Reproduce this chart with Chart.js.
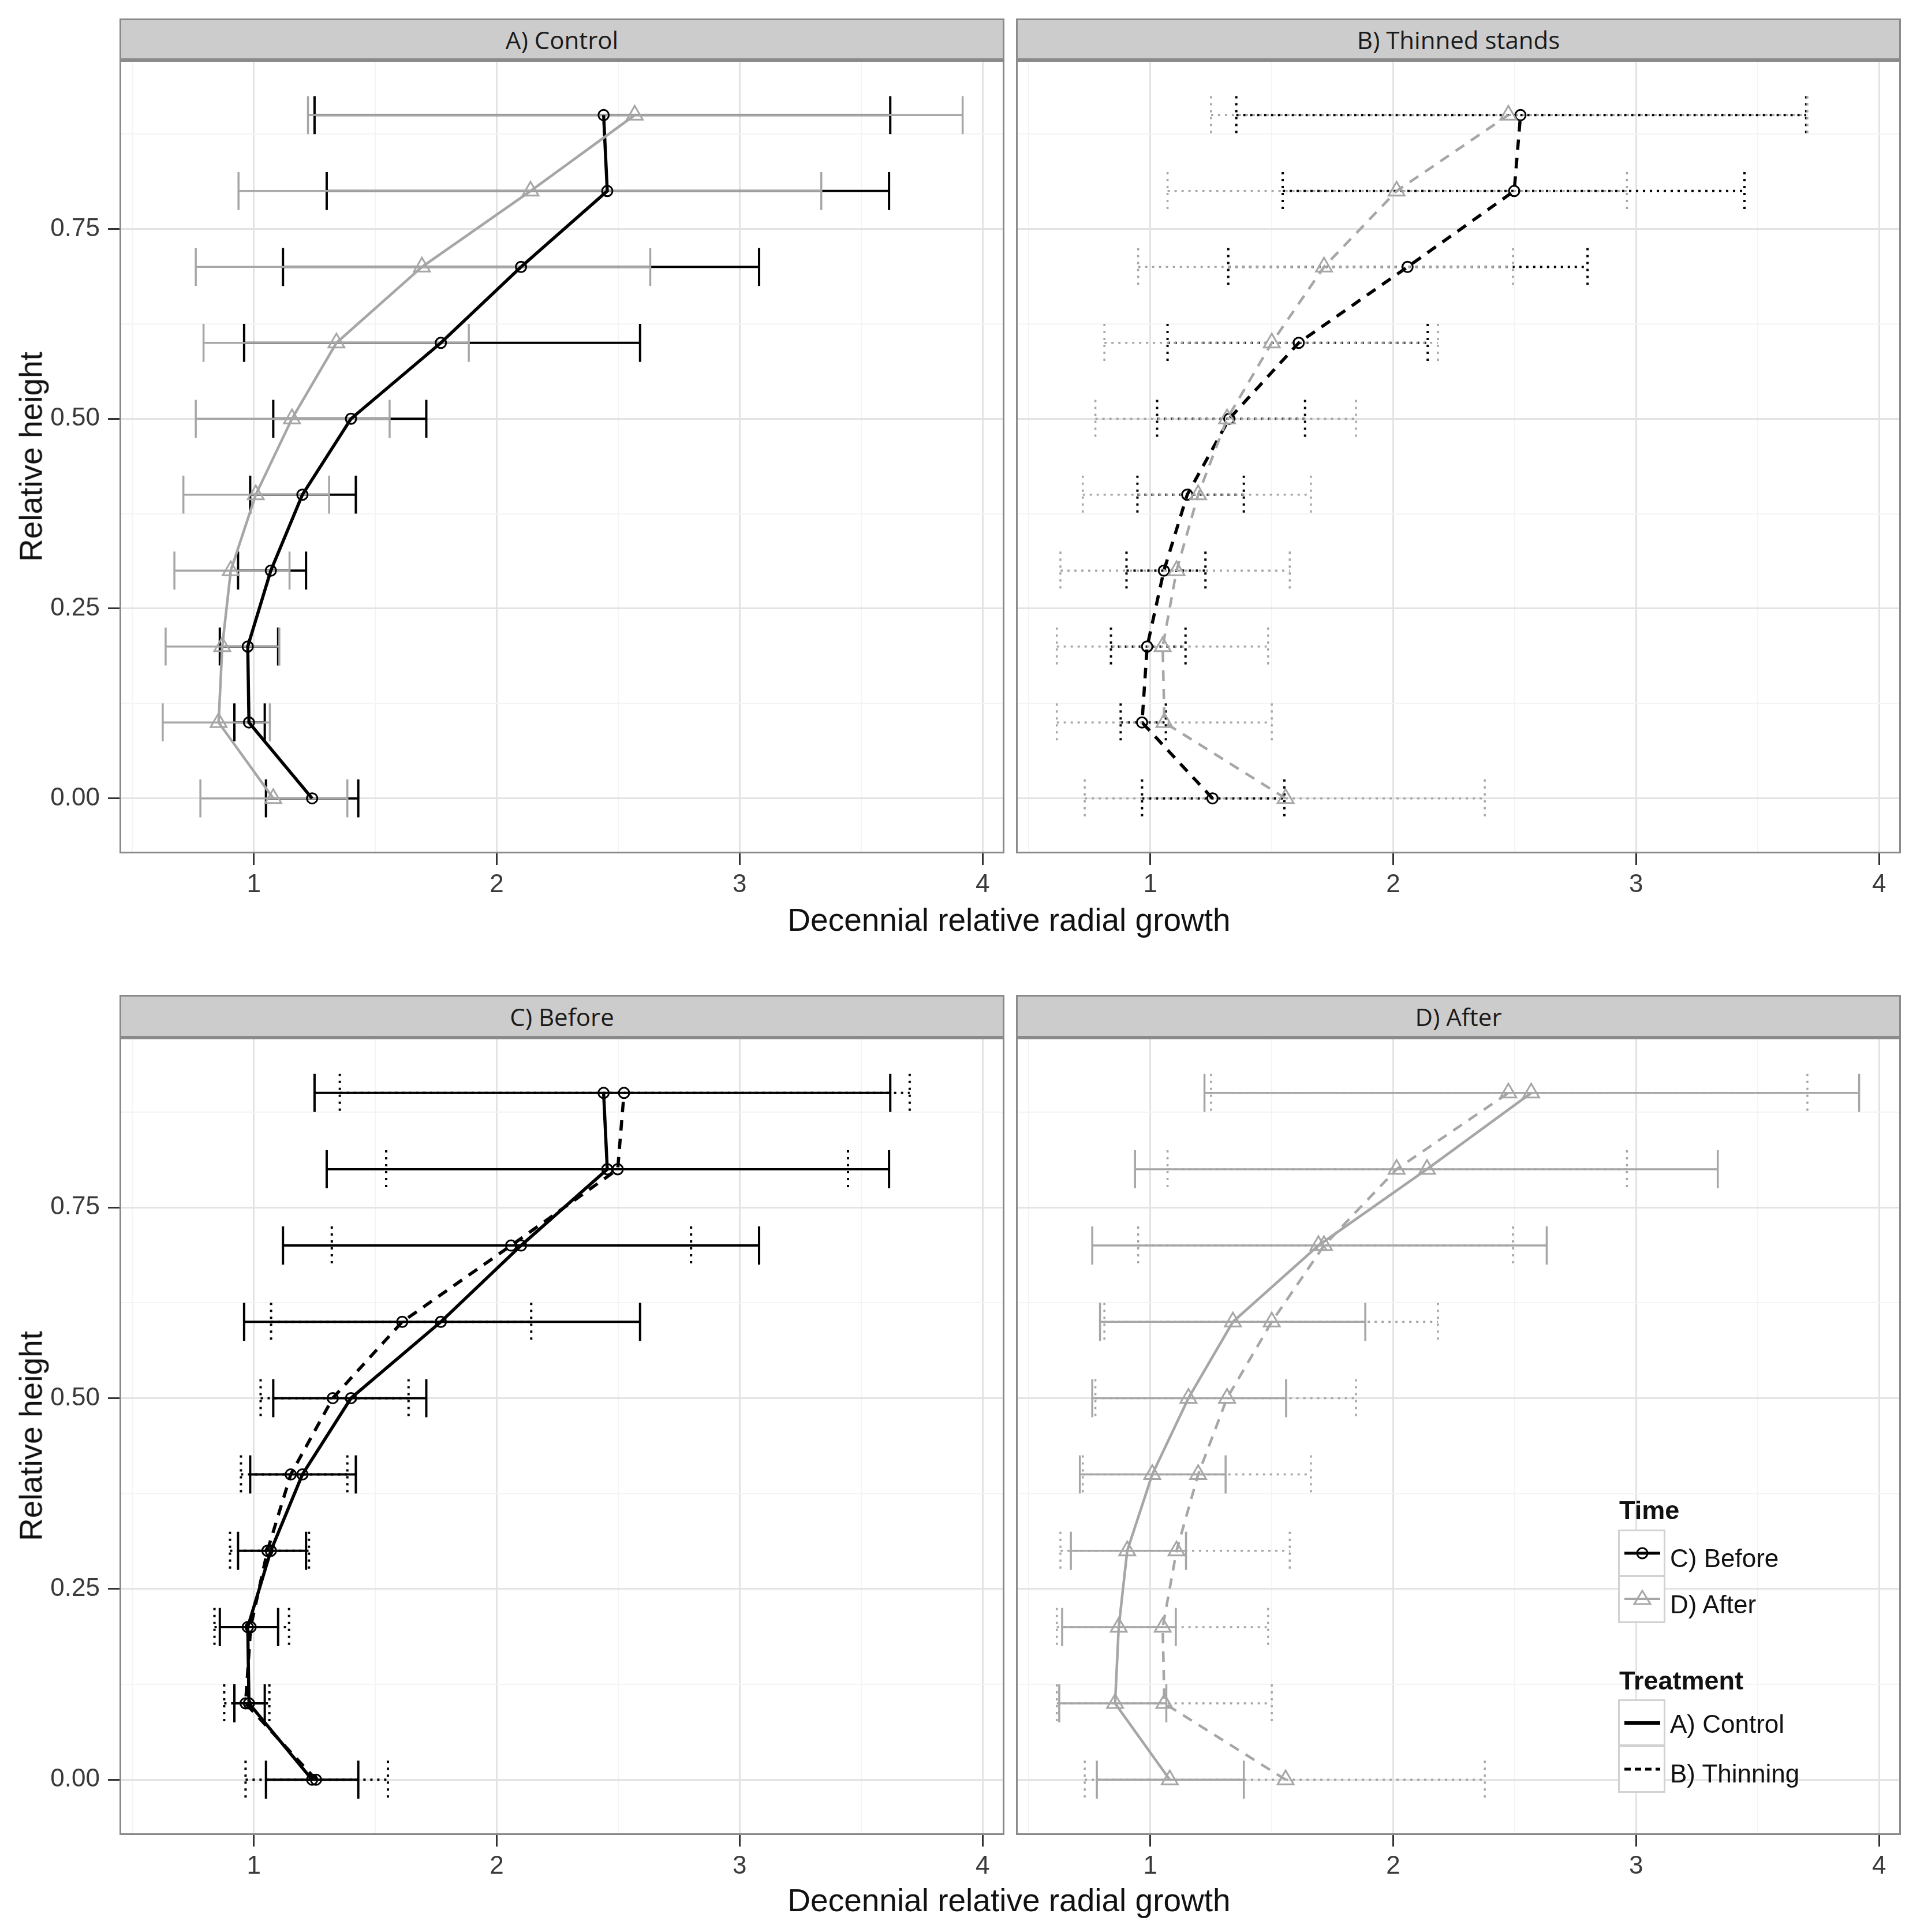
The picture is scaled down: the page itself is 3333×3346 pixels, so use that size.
<!DOCTYPE html>
<html>
<head>
<meta charset="utf-8">
<script src="https://cdn.jsdelivr.net/npm/chart.js@4.4.1/dist/chart.umd.min.js"></script>
<style>
html,body{margin:0;padding:0;background:#fff;}
#root{position:relative;width:3333px;height:3346px;overflow:hidden;font-family:"Liberation Sans",Arial,sans-serif;background:#fff;}
canvas{position:absolute;}
.strip{position:absolute;box-sizing:border-box;background:#cccccc;border:3px solid #8a8a8a;font-family:"Open Sans",sans-serif;font-size:42px;color:#1a1a1a;display:flex;align-items:center;justify-content:center;z-index:2;}
.xtitle{position:absolute;font-size:55px;line-height:1;color:#111;transform:translate(-50%,-50%);white-space:nowrap;}
.ytitle{position:absolute;font-size:55px;line-height:1;color:#111;transform:translate(-50%,-50%) rotate(-90deg);white-space:nowrap;}
.lgtitle{position:absolute;font-size:45px;font-weight:bold;line-height:1;color:#111;transform:translateY(-50%);white-space:nowrap;z-index:3;}
.lglab{position:absolute;font-size:44px;line-height:1;color:#111;transform:translateY(-50%);white-space:nowrap;z-index:3;}
.lgkey{position:absolute;box-sizing:border-box;width:82px;height:81px;background:#fff;border:3px solid #d2d2d2;z-index:3;}
.lgkey svg{position:absolute;left:0;top:0;}
</style>
</head>
<body>
<div id="root">
  <div class="strip" style="left:207px;top:32px;width:1533px;height:72px;">A) Control</div>
  <div class="strip" style="left:1760px;top:32px;width:1533px;height:72px;">B) Thinned stands</div>
  <div class="strip" style="left:207px;top:1723px;width:1533px;height:74px;">C) Before</div>
  <div class="strip" style="left:1760px;top:1723px;width:1533px;height:74px;">D) After</div>

  <canvas id="cA" width="1750" height="1456" style="left:0px;top:104px;"></canvas>
  <canvas id="cB" width="1583" height="1456" style="left:1750px;top:104px;"></canvas>
  <canvas id="cC" width="1750" height="1463" style="left:0px;top:1797px;"></canvas>
  <canvas id="cD" width="1583" height="1463" style="left:1750px;top:1797px;"></canvas>

  <div class="ytitle" style="left:54px;top:791px;">Relative height</div>
  <div class="ytitle" style="left:54px;top:2487px;">Relative height</div>
  <div class="xtitle" style="left:1748px;top:1593px;">Decennial relative radial growth</div>
  <div class="xtitle" style="left:1748px;top:3291px;">Decennial relative radial growth</div>

  <div class="lgtitle" style="left:2805px;top:2615px;">Time</div>
  <div class="lgkey" style="left:2803px;top:2649px;height:82px;">
    <svg width="82" height="82"><line x1="8" y1="38" x2="70" y2="38" stroke="#000" stroke-width="5"/><circle cx="39" cy="38" r="9" fill="none" stroke="#000" stroke-width="3"/></svg>
  </div>
  <div class="lglab" style="left:2893px;top:2699px;">C) Before</div>
  <div class="lgkey" style="left:2803px;top:2728px;height:83px;">
    <svg width="82" height="83"><line x1="8" y1="38" x2="70" y2="38" stroke="#a6a6a6" stroke-width="4"/><polygon points="39,24 53,47 25,47" fill="none" stroke="#a6a6a6" stroke-width="3"/></svg>
  </div>
  <div class="lglab" style="left:2893px;top:2779px;">D) After</div>

  <div class="lgtitle" style="left:2805px;top:2910px;">Treatment</div>
  <div class="lgkey" style="left:2803px;top:2943px;">
    <svg width="82" height="81"><line x1="8" y1="38" x2="70" y2="38" stroke="#000" stroke-width="6"/></svg>
  </div>
  <div class="lglab" style="left:2893px;top:2986px;">A) Control</div>
  <div class="lgkey" style="left:2803px;top:3023px;height:82px;">
    <svg width="82" height="82"><line x1="8" y1="38" x2="70" y2="38" stroke="#000" stroke-width="5" stroke-dasharray="11,7"/></svg>
  </div>
  <div class="lglab" style="left:2893px;top:3072px;">B) Thinning</div>
</div>

<script>
// ---------------- DATA ----------------
const heights = [0, 0.1, 0.2, 0.3, 0.4, 0.5, 0.6, 0.7, 0.8, 0.9];

// Control, before thinning (mean, lower, upper)
const controlBeforeMean = [1.24, 0.98, 0.975, 1.07, 1.20, 1.40, 1.77, 2.10, 2.455, 2.44];
const controlBeforeLo   = [1.05, 0.92, 0.86, 0.935, 0.985, 1.08, 0.96, 1.12, 1.30, 1.25];
const controlBeforeHi   = [1.43, 1.045, 1.10, 1.215, 1.42, 1.71, 2.59, 3.08, 3.615, 3.62];

// Control, after thinning
const controlAfterMean = [1.08, 0.855, 0.87, 0.905, 1.008, 1.157, 1.34, 1.692, 2.139, 2.568];
const controlAfterLo   = [0.78, 0.625, 0.637, 0.673, 0.71, 0.761, 0.793, 0.761, 0.937, 1.223];
const controlAfterHi   = [1.385, 1.066, 1.105, 1.147, 1.31, 1.559, 1.885, 2.632, 3.336, 3.918];

// Thinned stands, before thinning
const thinBeforeMean = [1.256, 0.966, 0.987, 1.056, 1.152, 1.325, 1.611, 2.059, 2.498, 2.524];
const thinBeforeLo   = [0.966, 0.878, 0.838, 0.902, 0.947, 1.028, 1.071, 1.321, 1.545, 1.354];
const thinBeforeHi   = [1.552, 1.064, 1.145, 1.227, 1.385, 1.637, 2.142, 2.800, 3.446, 3.70];

// Thinned stands, after thinning
const thinAfterMean = [1.557, 1.058, 1.051, 1.108, 1.197, 1.316, 1.50, 1.715, 2.014, 2.474];
const thinAfterLo   = [0.73, 0.615, 0.615, 0.63, 0.722, 0.774, 0.811, 0.950, 1.071, 1.250];
const thinAfterHi   = [2.377, 1.50, 1.485, 1.574, 1.661, 1.847, 2.184, 2.493, 2.962, 3.705];

// Axis ticks
const xTickValues = [1, 2, 3, 4];
const xTickLabels = ['1', '2', '3', '4'];
const xMinorValues = [0.5, 1.5, 2.5, 3.5];
const yTickValues = [0, 0.25, 0.5, 0.75];
const yTickLabels = ['0.00', '0.25', '0.50', '0.75'];
const yMinorValues = [0.125, 0.375, 0.625, 0.875];

// ---------------- STYLE ----------------
const X_MIN = 0.447, X_MAX = 4.09;
const Y_MIN = -0.0725, Y_MAX = 0.9725;
const CAP = 0.025;
const BLACK = '#000000', GRAY = '#a6a6a6';
const MAJOR_GRID = '#e3e3e3', MINOR_GRID = '#f4f4f4';
const TICK_FONT = {family: 'Liberation Sans', size: 44};

function makeSeries(mean, lo, hi, color, dashed, marker) {
  const isBlack = color === BLACK;
  return {
    data: heights.map((h, i) => ({x: mean[i], y: h})),
    errLo: lo, errHi: hi,
    showLine: true,
    borderColor: color,
    borderWidth: isBlack ? 5.5 : 4.5,
    borderDash: dashed ? [18, 14] : [],
    errDash: dashed ? [4, 8] : [],
    errWidth: isBlack ? 4 : 3.5,
    pointStyle: marker,
    pointRadius: marker === 'triangle' ? 16 : 9,
    pointBorderWidth: 3,
    pointBorderColor: color,
    pointBackgroundColor: 'rgba(0,0,0,0)',
    tension: 0
  };
}

const S = {
  CB: () => makeSeries(controlBeforeMean, controlBeforeLo, controlBeforeHi, BLACK, false, 'circle'),
  CA: () => makeSeries(controlAfterMean, controlAfterLo, controlAfterHi, GRAY, false, 'triangle'),
  TB: () => makeSeries(thinBeforeMean, thinBeforeLo, thinBeforeHi, BLACK, true, 'circle'),
  TA: () => makeSeries(thinAfterMean, thinAfterLo, thinAfterHi, GRAY, true, 'triangle')
};

const errorBarPlugin = {
  id: 'errbars',
  beforeDatasetsDraw(chart) {
    const ctx = chart.ctx, xs = chart.scales.x, ys = chart.scales.y;
    const metas = chart.getSortedVisibleDatasetMetas();
    for (let m = metas.length - 1; m >= 0; m--) {
      const ds = chart.data.datasets[metas[m].index];
      ctx.save();
      ctx.strokeStyle = ds.borderColor;
      ctx.lineWidth = ds.errWidth;
      ctx.lineCap = 'butt';
      ctx.setLineDash(ds.errDash);
      ds.data.forEach((p, j) => {
        const y = ys.getPixelForValue(p.y);
        const yt = ys.getPixelForValue(p.y + CAP), yb = ys.getPixelForValue(p.y - CAP);
        const xl = xs.getPixelForValue(ds.errLo[j]), xh = xs.getPixelForValue(ds.errHi[j]);
        ctx.beginPath();
        ctx.moveTo(xl, y); ctx.lineTo(xh, y);
        ctx.moveTo(xl, yt); ctx.lineTo(xl, yb);
        ctx.moveTo(xh, yt); ctx.lineTo(xh, yb);
        ctx.stroke();
      });
      ctx.restore();
    }
  },
  afterDraw(chart) {
    const a = chart.chartArea, ctx = chart.ctx;
    ctx.save();
    ctx.strokeStyle = '#8a8a8a';
    ctx.lineWidth = 3;
    ctx.strokeRect(a.left + 1.5, a.top + 1.5, a.right - a.left - 3, a.bottom - a.top - 3);
    ctx.restore();
  }
};

function makeChart(id, datasets, leftCol, xAxisH, padRight) {
  const allX = xTickValues.concat(xMinorValues).sort((a, b) => a - b);
  const allY = yTickValues.concat(yMinorValues).sort((a, b) => a - b);
  return new Chart(document.getElementById(id), {
    type: 'scatter',
    data: {datasets: datasets},
    plugins: [errorBarPlugin],
    options: {
      responsive: false,
      animation: false,
      devicePixelRatio: 1,
      layout: {padding: {left: 0, right: padRight, top: 0, bottom: 0}, autoPadding: false},
      plugins: {legend: {display: false}, tooltip: {enabled: false}},
      scales: {
        x: {
          type: 'linear', position: 'bottom', min: X_MIN, max: X_MAX,
          afterBuildTicks: s => { s.ticks = allX.map(v => ({value: v})); },
          afterFit: s => { s.height = xAxisH; s.paddingLeft = 0; s.paddingRight = 0; },
          ticks: {
            autoSkip: false, maxRotation: 0, padding: 8, font: TICK_FONT, color: '#3a3a3a',
            callback: v => { const k = xTickValues.indexOf(v); return k >= 0 ? xTickLabels[k] : ''; }
          },
          grid: {
            color: c => (c.tick && xTickValues.includes(c.tick.value)) ? MAJOR_GRID : MINOR_GRID,
            lineWidth: c => (c.tick && xTickValues.includes(c.tick.value)) ? 3 : 2,
            tickColor: c => (c.tick && xTickValues.includes(c.tick.value)) ? '#333333' : 'rgba(0,0,0,0)',
            tickWidth: 3, tickLength: 20, drawTicks: true
          },
          border: {display: false}
        },
        y: {
          type: 'linear', position: 'left', min: Y_MIN, max: Y_MAX,
          afterBuildTicks: s => { s.ticks = allY.map(v => ({value: v})); },
          afterFit: s => { s.width = leftCol ? 207 : 10; s.paddingTop = 0; s.paddingBottom = 0; },
          ticks: {
            display: leftCol, autoSkip: false, padding: 14, font: TICK_FONT, color: '#3a3a3a',
            callback: v => { const k = yTickValues.indexOf(v); return k >= 0 ? yTickLabels[k] : ''; }
          },
          grid: {
            color: c => (c.tick && yTickValues.includes(c.tick.value)) ? MAJOR_GRID : MINOR_GRID,
            lineWidth: c => (c.tick && yTickValues.includes(c.tick.value)) ? 3 : 2,
            tickColor: c => (c.tick && yTickValues.includes(c.tick.value)) ? '#333333' : 'rgba(0,0,0,0)',
            tickWidth: 3, tickLength: 20, drawTicks: leftCol
          },
          border: {display: false}
        }
      }
    }
  });
}

makeChart('cA', [S.CA(), S.CB()], true, 82, 10);
makeChart('cB', [S.TA(), S.TB()], false, 82, 40);
makeChart('cC', [S.TB(), S.CB()], true, 82, 10);
makeChart('cD', [S.TA(), S.CA()], false, 82, 40);
</script>
</body>
</html>
